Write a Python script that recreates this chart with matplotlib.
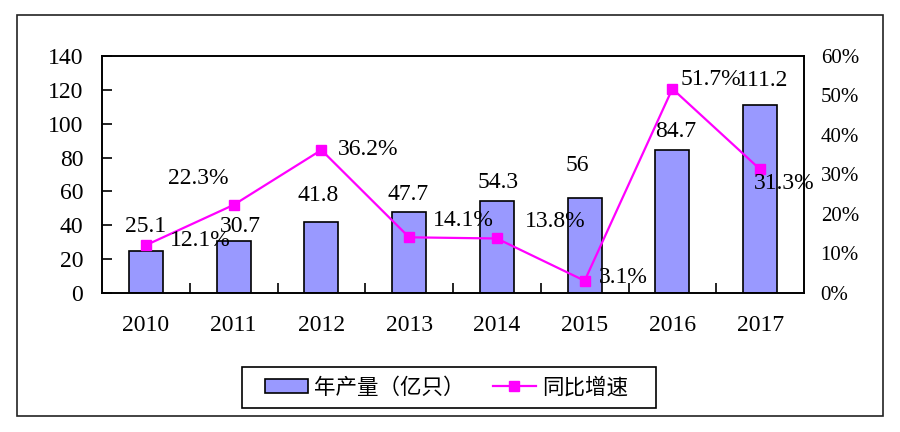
import numpy as np
import matplotlib
matplotlib.use("Agg")
import matplotlib.pyplot as plt
from matplotlib.patches import Rectangle
from matplotlib.ticker import FuncFormatter, FixedLocator

plt.rcParams['font.family'] = ['Liberation Serif', 'Noto Sans CJK SC', 'DejaVu Sans']

years = ['2010', '2011', '2012', '2013', '2014', '2015', '2016', '2017']
production = [25.1, 30.7, 41.8, 47.7, 54.3, 56, 84.7, 111.2]
production_labels = ['25.1', '30.7', '41.8', '47.7', '54.3', '56', '84.7', '111.2']
growth = [12.1, 22.3, 36.2, 14.1, 13.8, 3.1, 51.7, 31.3]
growth_labels = ['12.1%', '22.3%', '36.2%', '14.1%', '13.8%', '3.1%', '51.7%', '31.3%']
legend_labels = ['年产量（亿只）', '同比增速']

# label offsets in pixels (style only)
bar_off = [(0, 24), (7, 15), (-3, 27), (-1, 18), (1, 19), (-7, 33), (3, 18), (2, 24)]
pct_off = [(54, 5), (-35, 26), (47, 1), (54, 17), (58, 17), (39, 3), (39, 9), (24, -14)]

W, H = 900, 432
fig = plt.figure(figsize=(W / 100, H / 100), dpi=100)
fig.patch.set_facecolor('white')

# outer frame
fig.patches.append(Rectangle((17 / W, 1 - 416 / H), (883 - 17) / W, (416 - 15) / H,
                             transform=fig.transFigure, fill=False,
                             edgecolor='#222222', linewidth=1.2))

ax = fig.add_axes([102 / W, 1 - 293 / H, (804 - 102) / W, (293 - 56) / H])
x = np.arange(len(years))
ax.bar(x, production, width=0.39, color='#9999FF', edgecolor='black',
       linewidth=1.2, label=legend_labels[0], zorder=2)
ax.set_xlim(-0.5, len(years) - 0.5)
ax.set_ylim(0, 140)
ax.set_yticks(np.arange(0, 141, 20))
ax.set_xticks(x)
ax.set_xticklabels(years)
ax.xaxis.set_minor_locator(FixedLocator(x[:-1] + 0.5))
ax.tick_params(axis='x', which='major', length=0, pad=15.5, labelsize=17)
ax.tick_params(axis='x', which='minor', direction='in', length=7, width=1.2)
ax.tick_params(axis='y', direction='in', length=7, width=1.2, pad=13.5, labelsize=17)
for s in ax.spines.values():
    s.set_linewidth(1.2)

ax2 = ax.twinx()
ax2.plot(x, growth, color='#FF00FF', linewidth=1.6, marker='s', markersize=6.5,
         label=legend_labels[1], zorder=3)
ax2.set_ylim(0, 60)
ax2.set_yticks(np.arange(0, 61, 10))
ax2.yaxis.set_major_formatter(FuncFormatter(lambda v, p: f'{int(v)}%'))
ax2.tick_params(axis='y', length=0, pad=12, labelsize=15)
for s in ax2.spines.values():
    s.set_linewidth(1.2)

for i in range(len(years)):
    ax2.annotate(production_labels[i], xy=(x[i], production[i]), xycoords=ax.transData,
                 xytext=bar_off[i], textcoords='offset pixels',
                 ha='center', va='center', fontsize=17, zorder=5)
    ax2.annotate(growth_labels[i], xy=(x[i], growth[i]), xycoords=ax2.transData,
                 xytext=pct_off[i], textcoords='offset pixels',
                 ha='center', va='center', fontsize=17, zorder=5)

# legend frame drawn separately
fig.patches.append(Rectangle((242 / W, 1 - 408 / H), (656 - 242) / W, (408 - 367) / H,
                             transform=fig.transFigure, fill=False,
                             edgecolor='black', linewidth=1.2))
h1, l1 = ax.get_legend_handles_labels()
h2, l2 = ax2.get_legend_handles_labels()
leg = fig.legend(h1 + h2, l1 + l2, loc='center', bbox_to_anchor=(446.5 / W, 1 - 387.5 / H),
                 ncol=2, frameon=False,
                 prop={'family': ['Noto Sans CJK SC'], 'size': 15.5},
                 handlelength=2.0, handleheight=0.6, handletextpad=0.3,
                 columnspacing=1.3, borderpad=0.0, borderaxespad=0)

fig.savefig('out.png', dpi=100)
